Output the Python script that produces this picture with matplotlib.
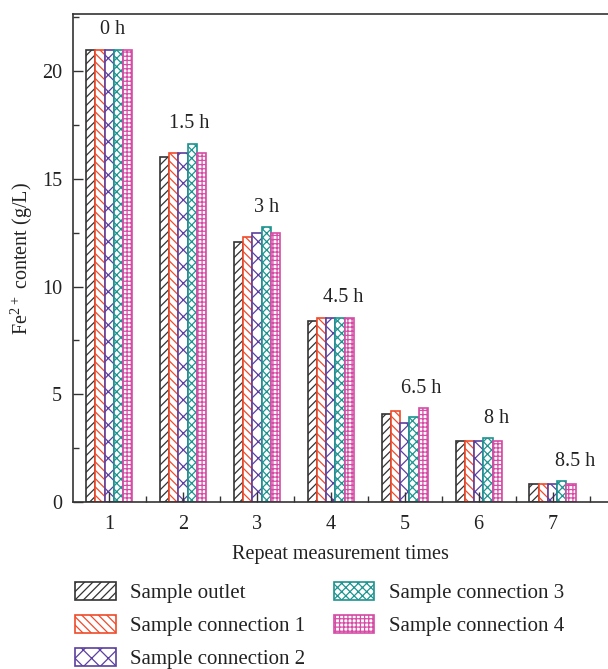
import matplotlib
matplotlib.use("Agg")
import matplotlib.pyplot as plt
import numpy as np
from matplotlib.ticker import MultipleLocator

plt.rcParams['font.family'] = ['Liberation Serif', 'DejaVu Serif']
plt.rcParams['mathtext.default'] = 'regular'
plt.rcParams['hatch.linewidth'] = 0.9

# Repeat measurement index and elapsed time labels
runs = [1, 2, 3, 4, 5, 6, 7]
time_labels = ["0 h", "1.5 h", "3 h", "4.5 h", "6.5 h", "8 h", "8.5 h"]

series_names = ["Sample outlet", "Sample connection 1", "Sample connection 2",
                "Sample connection 3", "Sample connection 4"]

# Fe2+ content (g/L) per sampling point
outlet = [21.0, 16.0, 12.05, 8.42, 4.08, 2.83, 0.84]
conn1 = [21.0, 16.22, 12.32, 8.55, 4.21, 2.83, 0.84]
conn2 = [21.0, 16.22, 12.47, 8.55, 3.65, 2.83, 0.84]
conn3 = [21.0, 16.64, 12.75, 8.55, 3.94, 2.96, 0.96]
conn4 = [21.0, 16.22, 12.47, 8.55, 4.35, 2.83, 0.84]
values = [outlet, conn1, conn2, conn3, conn4]

colors = ["#333333", "#F04A2A", "#5B3FA0", "#1E9490", "#D64BA5"]
hatches = ["////", "\\\\\\\\", "xx", "xxxx", "++++"]

fig = plt.figure(figsize=(6.08, 6.69), dpi=100)
ax = fig.add_axes([0.120, 0.2496, 0.880, 0.7294])

x = np.array(runs, dtype=float)
width = 0.125
for k, (vals, col, h, name) in enumerate(zip(values, colors, hatches, series_names)):
    ax.bar(x + (k - 2) * width, vals, width, facecolor="white", edgecolor=col,
           hatch=h, linewidth=1.2, label=name)

# Time annotations above each group
label_dx = [0.04, 0.08, 0.135, 0.16, 0.22, 0.24, 0.30]
for i, lab in enumerate(time_labels):
    top = max(v[i] for v in values)
    ax.text(x[i] + label_dx[i], top + 0.92, lab, ha="center", va="center",
            fontsize=14.5, color="#222222")

ax.set_xlim(0.51, 7.75)
ax.set_ylim(0, 22.65)
ax.set_xticks(runs)
ax.xaxis.set_minor_locator(MultipleLocator(0.5))
ax.yaxis.set_major_locator(MultipleLocator(5))
ax.yaxis.set_minor_locator(MultipleLocator(2.5))
ax.tick_params(which="both", direction="in", labelsize=14.5, colors="#333333",
               labelcolor="#222222", width=1.0)
ax.tick_params(axis="x", which="major", length=7, pad=9)
ax.tick_params(axis="y", which="major", length=7, pad=8)
ax.tick_params(which="minor", length=4)
ax.spines["right"].set_visible(False)
for s in ["left", "bottom", "top"]:
    ax.spines[s].set_color("#333333")
    ax.spines[s].set_linewidth(1.2)

ax.set_xlabel("Repeat measurement times", fontsize=14.5, color="#222222", labelpad=8)
ax.set_ylabel("Fe$^{2+}$ content (g/L)", fontsize=14.5, color="#222222", labelpad=5)

fig.legend(loc="upper left", bbox_to_anchor=(0.11, 0.142), ncol=2, frameon=False,
           fontsize=15, handlelength=1.95, handleheight=0.95, handletextpad=0.7,
           labelspacing=0.55, columnspacing=1.35, borderaxespad=0.0,
           labelcolor="#222222")

fig.savefig("out.png", dpi=100)
